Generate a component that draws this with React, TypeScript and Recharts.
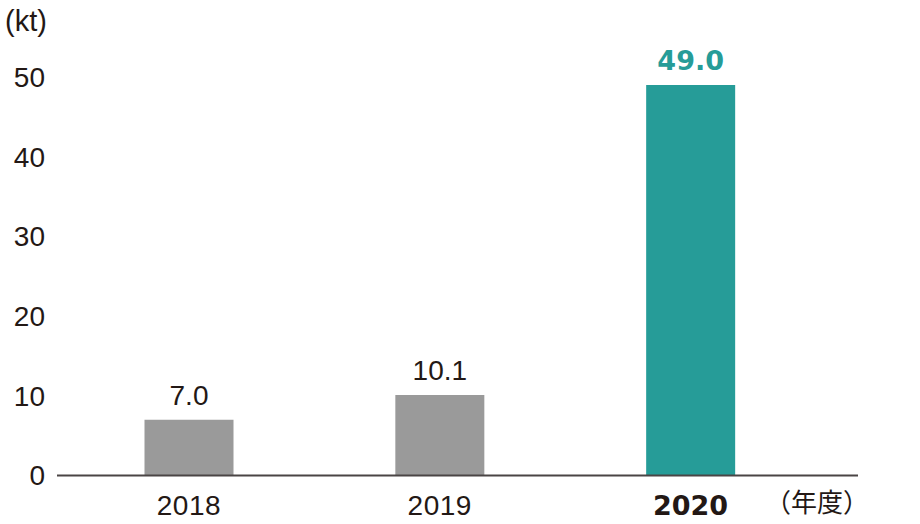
import React from 'react';
import { BarChart, Bar, XAxis, YAxis, Cell, LabelList } from 'recharts';

const years = ['2018', '2019', '2020'];
const volumes = [7.0, 10.1, 49.0];
const yTicks = [0, 10, 20, 30, 40, 50];

const GRAY = '#9a9a9a';
const TEAL = '#269c98';
const TEXT = '#231815';
const FONT = '"Liberation Sans", Arial, sans-serif';
const BOLD_FONT = '"DejaVu Sans", "Liberation Sans", sans-serif';

const data = years.map((year, i) => ({ year, value: volumes[i] }));
const last = years.length - 1;

const YearTick = (props: any) => {
  const { x, y, payload, index } = props;
  const bold = index === last;
  return (
    <text
      x={x}
      y={y + 31}
      textAnchor="middle"
      fill={TEXT}
      fontFamily={bold ? BOLD_FONT : FONT}
      fontSize={bold ? 27 : 28}
      fontWeight={bold ? 700 : 400}
      letterSpacing={bold ? 0 : 0.5}
    >
      {payload.value}
    </text>
  );
};

const ValueLabel = (props: any) => {
  const { x, y, width, value, index } = props;
  const bold = index === last;
  return (
    <text
      x={x + width / 2}
      y={y - 15}
      textAnchor="middle"
      fill={bold ? TEAL : TEXT}
      fontFamily={bold ? BOLD_FONT : FONT}
      fontSize={bold ? 27 : 28}
      fontWeight={bold ? 700 : 400}
    >
      {Number(value).toFixed(1)}
    </text>
  );
};

const App: React.FC = () => {
  return (
    <div style={{ position: 'absolute', left: 0, top: 0, width: 920, height: 524 }}>
      <BarChart
        width={920}
        height={524}
        data={data}
        margin={{ top: 77, right: 62, bottom: 0, left: 0 }}
      >
        <XAxis
          dataKey="year"
          height={48.5}
          padding={{ left: 6.5, right: 42 }}
          axisLine={{ stroke: '#4a4545', strokeWidth: 2 }}
          tickLine={false}
          tick={<YearTick />}
          interval={0}
        />
        <YAxis
          width={57}
          domain={[0, 50]}
          ticks={yTicks}
          axisLine={false}
          tickLine={false}
          tickSize={0}
          tickMargin={12}
          tick={{ fill: TEXT, fontFamily: FONT, fontSize: 28 }}
        />
        <Bar dataKey="value" barSize={89} isAnimationActive={false}>
          {data.map((entry, index) => (
            <Cell key={`cell-${entry.year}`} fill={index === last ? TEAL : GRAY} />
          ))}
          <LabelList dataKey="value" content={<ValueLabel />} />
        </Bar>
      </BarChart>
      <svg
        width={920}
        height={524}
        style={{ position: 'absolute', left: 0, top: 0, pointerEvents: 'none' }}
      >
        <text x={5} y={31} fill={TEXT} fontFamily={FONT} fontSize={29}>
          (kt)
        </text>
        <text x={765} y={512} fill={TEXT} fontFamily='"Noto Sans CJK JP", sans-serif' fontSize={26}>
          （年度）
        </text>
      </svg>
    </div>
  );
};

export default App;
